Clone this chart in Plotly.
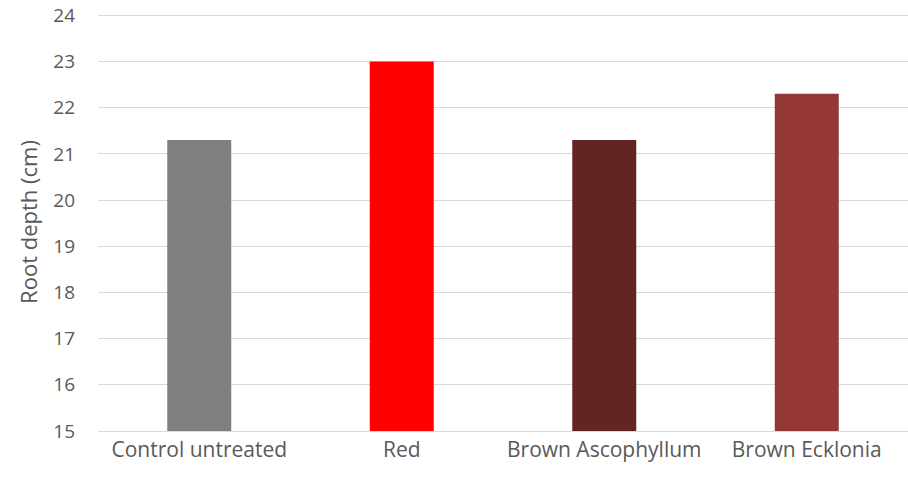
import plotly.graph_objects as go

categories = ["Control untreated", "Red", "Brown Ascophyllum", "Brown Ecklonia"]
values = [21.3, 23.0, 21.3, 22.3]
colors = ["#7f7f7f", "#ff0000", "#632523", "#953735"]
y_ticks = list(range(15, 25))
y_range = [15, 24.05]

fig = go.Figure(go.Bar(x=categories, y=values, marker=dict(color=colors, line=dict(width=0)), width=0.316))

fig.update_layout(
    width=908, height=477,
    margin=dict(l=98, r=0, t=13, b=46, autoexpand=False),
    paper_bgcolor="white", plot_bgcolor="white",
    font=dict(family="Open Sans, Liberation Sans, Arial, sans-serif", size=19, color="#595959"),
    showlegend=False,
)
fig.update_yaxes(
    range=y_range, tickvals=y_ticks, showgrid=True, gridcolor="#d9d9d9", gridwidth=1,
    zeroline=False, showline=False, ticklabelstandoff=22, automargin=False,
    title=dict(text="Root depth (cm)", font=dict(size=22, color="#595959"), standoff=9),
    tickfont=dict(size=19),
)
fig.update_xaxes(
    showline=True, linecolor="#d9d9d9", linewidth=1, ticks="", ticklabelstandoff=0,
    automargin=False, tickfont=dict(size=21),
)
fig.write_html("out.html", config={"displayModeBar": False},
               post_script="document.body.style.margin='0';document.body.style.overflow='hidden';")
